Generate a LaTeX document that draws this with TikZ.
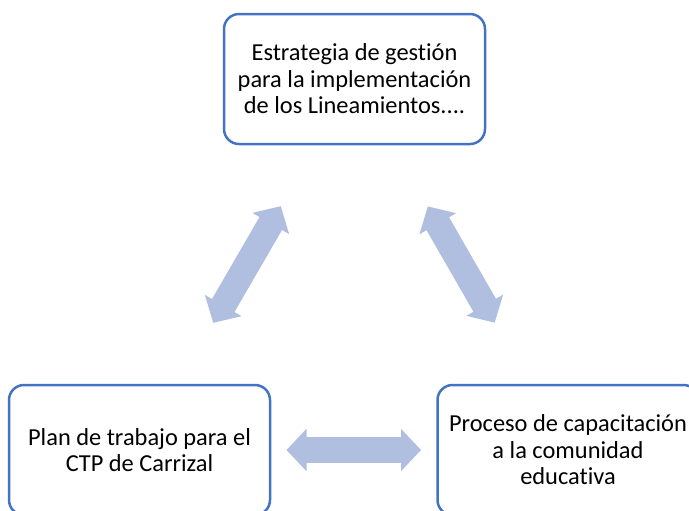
\documentclass[tikz,border=0pt]{standalone}
\usepackage{fontspec}
\setmainfont{Carlito}[Ligatures=NoCommon]
\usetikzlibrary{positioning}
\usetikzlibrary{arrows.meta}
\definecolor{borde}{HTML}{4472C4}
\definecolor{flechaazul}{HTML}{B0BEE0}
\tikzset{
	bloque/.style={draw=borde, rectangle, line width=1.25pt, rounded corners=7.5pt, minimum width=130.5pt, minimum height=65pt, align=center, font=\fontsize{12.2pt}{13.3pt}\selectfont},
	% double arrows between the blocks
	flecha/.style={draw=flechaazul, line width=13pt, shorten <=73.5pt, shorten >=73.5pt},
}

\begin{document}
\begin{tikzpicture}[node distance=185.5pt]
	\useasboundingbox (0,0) rectangle (344.5pt,-255pt);
	
	\node (estrategia) [bloque] at (177.25pt,-39.5pt) {Estrategia de gestión\\para la implementación\\de los Lineamientos....};
	
	\node (plan) [bloque, below of=estrategia, xshift=-107.5pt] {Plan de trabajo para el\\CTP de Carrizal};
	\node (proceso) [bloque, right of=plan, xshift=28.75pt] {Proceso de capacitación\\a la comunidad\\educativa};
	
	\begin{scope}[<->, >={Triangle[width=21pt, length=10pt, line width=1pt]}]
		\draw[flecha] (plan.center) -- (estrategia.center);
		\draw[flecha] (estrategia.center) -- (proceso.center);
		\draw[flecha] (plan.center) -- (proceso.center);
	\end{scope}
	
\end{tikzpicture}
\end{document}
